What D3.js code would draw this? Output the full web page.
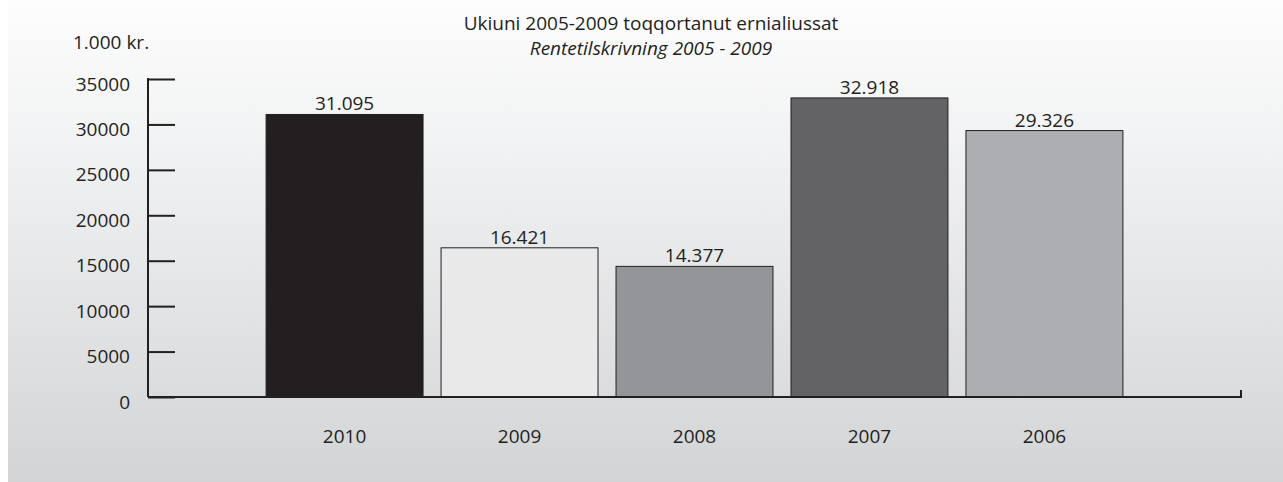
<!DOCTYPE html>
<html>
<head>
<meta charset="utf-8">
<script src="https://cdn.jsdelivr.net/npm/d3@7"></script>
<style>
  body { margin: 0; background: #fff; }
  text { font-family: "Open Sans", sans-serif; fill: #231f20; }
</style>
</head>
<body>
<svg width="1283" height="482"></svg>
<script>
// Rentetilskrivning 2005 - 2009 (1.000 kr.)
var years = ["2010", "2009", "2008", "2007", "2006"];
var values = [31095, 16421, 14377, 32918, 29326];
var valueLabels = ["31.095", "16.421", "14.377", "32.918", "29.326"];
var barColors = ["#231f20", "#e9e9ea", "#949598", "#636365", "#adaeb1"];
var yTicks = [0, 5000, 10000, 15000, 20000, 25000, 30000, 35000];

var svg = d3.select("svg"),
    width = +svg.attr("width"),
    height = +svg.attr("height"),
    fs = "19px";

// background panel with soft vertical gradient
var grad = svg.append("defs").append("linearGradient")
    .attr("id", "bg").attr("x1", 0).attr("y1", 0).attr("x2", 0).attr("y2", 1);
grad.append("stop").attr("offset", "0%").attr("stop-color", "#fdfdfd");
grad.append("stop").attr("offset", "30%").attr("stop-color", "#f1f2f3");
grad.append("stop").attr("offset", "100%").attr("stop-color", "#d3d4d6");

svg.append("rect")
    .attr("x", 8).attr("y", 0)
    .attr("width", width - 8).attr("height", height)
    .attr("fill", "url(#bg)");

var x0 = 148, x1 = 1241, yBase = 397, yTop = 79;

var x = d3.scaleBand()
    .domain(years)
    .range([x0, x1])
    .paddingInner(0.103)
    .paddingOuter(0.675);

var y = d3.scaleLinear()
    .domain([0, 35000])
    .range([yBase, yTop]);

// title
svg.append("text")
    .attr("x", 651).attr("y", 30)
    .attr("text-anchor", "middle")
    .style("font-size", fs)
    .text("Ukiuni 2005-2009 toqqortanut ernialiussat");

svg.append("text")
    .attr("x", 651).attr("y", 55)
    .attr("text-anchor", "middle")
    .style("font-size", fs)
    .style("font-style", "italic")
    .text("Rentetilskrivning 2005 - 2009");

svg.append("text")
    .attr("x", 73).attr("y", 49)
    .style("font-size", fs)
    .text("1.000 kr.");

// y axis
var yAxis = d3.axisLeft(y)
    .tickValues(yTicks)
    .tickSize(-27)
    .tickPadding(18)
    .tickFormat(d3.format("d"));

var ya = svg.append("g")
    .attr("transform", "translate(" + x0 + ",0)")
    .call(yAxis);
ya.select(".domain").remove();
ya.selectAll(".tick line").attr("stroke", "#231f20").attr("stroke-width", 2);
ya.selectAll(".tick text")
    .attr("dy", 11)
    .style("font-size", fs)
    .style("font-family", "'Open Sans', sans-serif")
    .attr("fill", "#231f20");

svg.append("line")
    .attr("x1", x0).attr("x2", x0)
    .attr("y1", y(35000) - 1).attr("y2", yBase)
    .attr("stroke", "#231f20").attr("stroke-width", 2);

// bars
svg.selectAll(".bar")
    .data(values)
    .enter().append("rect")
      .attr("class", "bar")
      .attr("x", function(d, i) { return x(years[i]); })
      .attr("y", function(d) { return y(d); })
      .attr("width", x.bandwidth())
      .attr("height", function(d) { return yBase - y(d); })
      .attr("fill", function(d, i) { return barColors[i]; })
      .attr("stroke", "#231f20")
      .attr("stroke-width", 1);

svg.selectAll(".vlabel")
    .data(values)
    .enter().append("text")
      .attr("class", "vlabel")
      .attr("x", function(d, i) { return x(years[i]) + x.bandwidth() / 2; })
      .attr("y", function(d) { return y(d) - 4; })
      .attr("text-anchor", "middle")
      .style("font-size", fs)
      .text(function(d, i) { return valueLabels[i]; });

// x axis
var xAxis = d3.axisBottom(x).tickSize(0).tickPadding(0);
var xa = svg.append("g")
    .attr("transform", "translate(0," + yBase + ")")
    .call(xAxis);
xa.select(".domain").remove();
xa.selectAll(".tick text")
    .attr("dy", 46)
    .style("font-size", fs)
    .style("font-family", "'Open Sans', sans-serif")
    .attr("fill", "#231f20");

svg.append("path")
    .attr("d", "M" + x0 + "," + yBase + "H" + x1 + "V" + (yBase - 7))
    .attr("fill", "none")
    .attr("stroke", "#231f20")
    .attr("stroke-width", 2);
</script>
</body>
</html>
